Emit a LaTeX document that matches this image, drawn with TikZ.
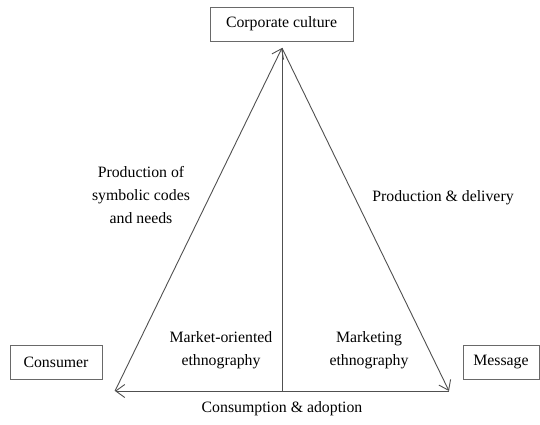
\documentclass[tikz,border=0pt]{standalone}
\usepackage{fontspec}
\setmainfont{Liberation Serif}
\usetikzlibrary{arrows.meta}
\definecolor{linegray}{RGB}{80,80,80}
\definecolor{boxgray}{RGB}{105,105,105}
\tikzset{
    lbl/.style = {align=center, inner sep=0pt, text centered, font=\fontsize{15.8}{23}\selectfont},
    box/.style = {lbl, rectangle, draw=boxgray, line width=0.8pt},
    link/.style = {draw=linegray, line width=0.9pt},
    tip/.style = {-{Straight Barb[length=9pt,width=13pt,line width=0.9pt]}}
}

\begin{document}
\begin{tikzpicture}[x=1pt,y=-1pt]
    \useasboundingbox (0,0) rectangle (540,424);
    \coordinate (apex) at (282,48);
    \coordinate (left) at (115,391);
    \coordinate (right) at (449,391);
    \coordinate (base) at (282,391);

    \node [box, minimum width=143pt, minimum height=34pt] (culture) at (281.5,24) {Corporate culture};
    \node [box, minimum width=92pt, minimum height=34pt] (consumer) at (56,362) {Consumer};
    \node [box, minimum width=76pt, minimum height=34pt] (message) at (501,362) {Message};

    \draw [link, tip] (left) -- (apex);
    \draw [link, tip] (apex) -- (right);
    \draw [link, tip] (right) -- (left);
    \draw [link] (apex) -- (base);

    \node [lbl] (codes) at (141,195) {Production of\\symbolic codes\\and needs};
    \node [lbl] (delivery) at (443,198) {Production \& delivery};
    \node [lbl] (marketethno) at (221,350) {Market-oriented\\ethnography};
    \node [lbl] (ethno) at (369,350) {Marketing\\ethnography};
    \node [lbl] (adoption) at (282,409) {Consumption \& adoption};
\end{tikzpicture}
\end{document}
